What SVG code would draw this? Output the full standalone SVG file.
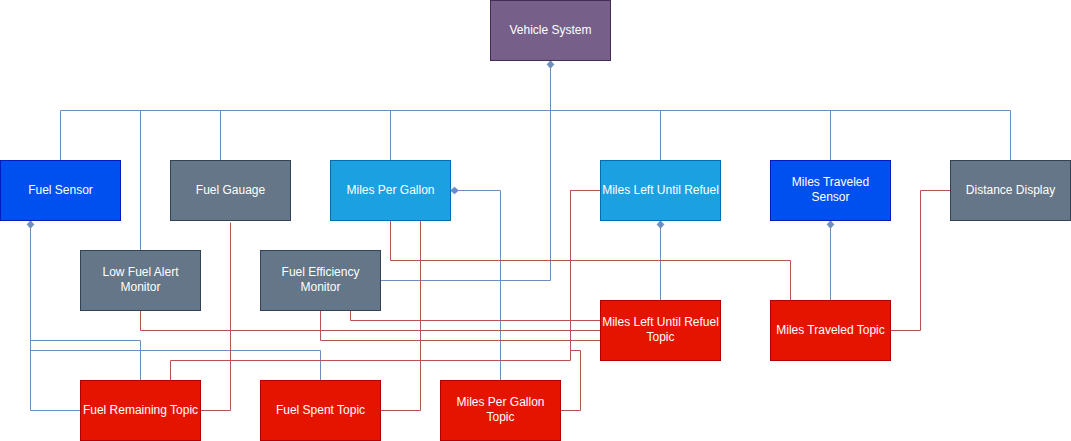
<svg xmlns="http://www.w3.org/2000/svg" width="1071" height="441" viewBox="0 0 1071 441">
  <style>
    .e { fill: none; stroke-width: 1; }
    .b { stroke: #6c8ebf; }
    .r { stroke: #b85450; }
    .n rect { stroke-width: 1; }
    .purple rect { fill: #76608a; stroke: #432d57; }
    .cobalt rect { fill: #0050ef; stroke: #001dbc; }
    .slate rect { fill: #647687; stroke: #314354; }
    .sky rect { fill: #1ba1e2; stroke: #006eaf; }
    .red rect { fill: #e51400; stroke: #b20000; }
    .n text { fill: #ffffff; font-family: "Liberation Sans", Arial, Helvetica, sans-serif; font-size: 12px; text-anchor: middle; dominant-baseline: central; }
  </style>
  <defs>
    <marker id="dia" markerUnits="userSpaceOnUse" markerWidth="10" markerHeight="10" viewBox="-1 -5 10 10" refX="0" refY="0" orient="auto">
      <path d="M0,0 L4,-3.5 L8,0 L4,3.5 Z" fill="#6c8ebf" stroke="#6c8ebf" stroke-width="0.5"/>
    </marker>
  </defs>
  <g transform="translate(0.5,0.5)">
    <g id="connectors">
      <path class="e b" marker-start="url(#dia)" d="M550,60 V110 H60 V160"/>
      <path class="e b" d="M550,60 V110 H140 V250"/>
      <path class="e b" d="M550,60 V110 H220 V160"/>
      <path class="e b" d="M550,60 V110 H390 V160"/>
      <path class="e b" d="M550,60 V110 H660 V160"/>
      <path class="e b" d="M550,60 V110 H830 V160"/>
      <path class="e b" d="M550,60 V110 H1010 V160"/>
      <path class="e b" d="M550,60 V280 H380"/>
      <path class="e b" marker-start="url(#dia)" d="M30,220 V410 H80"/>
      <path class="e b" d="M30,220 V340 H140 V380"/>
      <path class="e b" d="M30,220 V350 H320 V380"/>
      <path class="e b" marker-start="url(#dia)" d="M450,190 H500 V380"/>
      <path class="e b" marker-start="url(#dia)" d="M660,220 V300"/>
      <path class="e b" marker-start="url(#dia)" d="M830,220 V300"/>

      <path class="e r" d="M230,222 V410 H200"/>
      <path class="e r" d="M420,220 V410 H380"/>
      <path class="e r" d="M390,220 V260 H790 V300"/>
      <path class="e r" d="M600,190 H570 V360 H170 V380"/>
      <path class="e r" d="M560,410 H580 V350 H570 V190 H600"/>
      <path class="e r" d="M950,190 H920 V330 H890"/>
      <path class="e r" d="M140,310 V330 H600"/>
      <path class="e r" d="M320,310 V340 H600"/>
      <path class="e r" d="M350,310 V320 H600"/>
    </g>

    <g id="vehicle-system" class="n purple"><rect x="490" y="0" width="120" height="60"/><text x="550" y="29">Vehicle System</text></g>
    <g id="fuel-sensor" class="n cobalt"><rect x="0" y="160" width="120" height="60"/><text x="60" y="189">Fuel Sensor</text></g>
    <g id="fuel-gauage" class="n slate"><rect x="170" y="160" width="120" height="60"/><text x="230" y="189">Fuel Gauage</text></g>
    <g id="miles-per-gallon" class="n sky"><rect x="330" y="160" width="120" height="60"/><text x="390" y="189">Miles Per Gallon</text></g>
    <g id="miles-left-until-refuel" class="n sky"><rect x="600" y="160" width="120" height="60"/><text x="660" y="189">Miles Left Until Refuel</text></g>
    <g id="miles-traveled-sensor" class="n cobalt"><rect x="770" y="160" width="120" height="60"/><text x="830" y="181.5">Miles Traveled</text><text x="830" y="196.5">Sensor</text></g>
    <g id="distance-display" class="n slate"><rect x="950" y="160" width="120" height="60"/><text x="1010" y="189">Distance Display</text></g>
    <g id="low-fuel-alert-monitor" class="n slate"><rect x="80" y="250" width="120" height="60"/><text x="140" y="271.5">Low Fuel Alert</text><text x="140" y="286.5">Monitor</text></g>
    <g id="fuel-efficiency-monitor" class="n slate"><rect x="260" y="250" width="120" height="60"/><text x="320" y="271.5">Fuel Efficiency</text><text x="320" y="286.5">Monitor</text></g>
    <g id="miles-left-until-refuel-topic" class="n red"><rect x="600" y="300" width="120" height="60"/><text x="660" y="321.5">Miles Left Until Refuel</text><text x="660" y="336.5">Topic</text></g>
    <g id="miles-traveled-topic" class="n red"><rect x="770" y="300" width="120" height="60"/><text x="830" y="329">Miles Traveled Topic</text></g>
    <g id="fuel-remaining-topic" class="n red"><rect x="80" y="380" width="120" height="60"/><text x="140" y="409">Fuel Remaining Topic</text></g>
    <g id="fuel-spent-topic" class="n red"><rect x="260" y="380" width="120" height="60"/><text x="320" y="409">Fuel Spent Topic</text></g>
    <g id="miles-per-gallon-topic" class="n red"><rect x="440" y="380" width="120" height="60"/><text x="500" y="401.5">Miles Per Gallon</text><text x="500" y="416.5">Topic</text></g>
  </g>
</svg>
